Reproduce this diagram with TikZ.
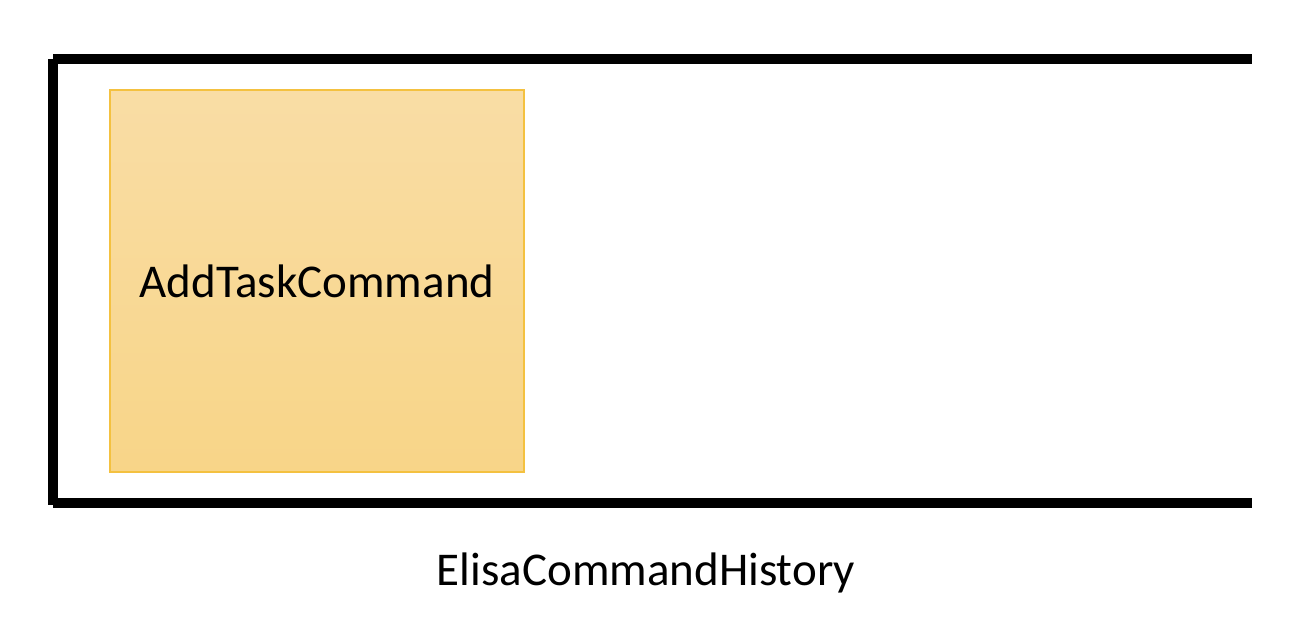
\documentclass[tikz,border=0pt]{standalone}
\usepackage{fontspec}
\setmainfont{Carlito}
\usetikzlibrary{positioning}

\definecolor{cmdtop}{HTML}{F9DDA5}
\definecolor{cmdbottom}{HTML}{F8D588}
\definecolor{cmdborder}{HTML}{F4C140}

\tikzset{
  cmdbox/.style={rectangle, draw=cmdborder, line width=1.5pt,
    top color=cmdtop, bottom color=cmdbottom,
    minimum width=414pt, minimum height=382pt, inner sep=0pt,
    font=\fontsize{47}{52}\selectfont},
  histline/.style={line width=10pt, line cap=butt},
  histlabel/.style={font=\fontsize{47}{52}\selectfont, anchor=base, inner sep=0pt}
}

\begin{document}
\begin{tikzpicture}[x=1pt,y=-1pt]
  \useasboundingbox (0,0) rectangle (1314,630);

  \node[cmdbox]    (add)  at (317,281) {AddTaskCommand};
  \node[histlabel] (hist) at (646,585) {ElisaCommandHistory};

  \draw[histline] (53,59) -- (53,505);
  \draw[histline] (53,59) -- (1252,59);
  \draw[histline] (53,503) -- (1252,503);
\end{tikzpicture}
\end{document}
